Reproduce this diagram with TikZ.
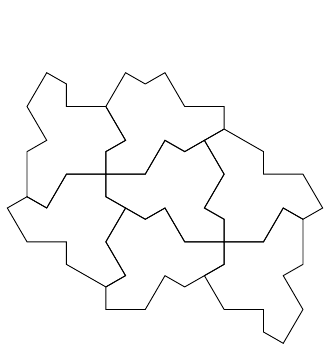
\documentclass[tikz,border=0pt]{standalone}
\begin{document}
\begin{tikzpicture}[x=1pt, y=-1pt, tile/.style={draw=black, line width=0.9pt}]
    \useasboundingbox (0,0) rectangle (323,347);
    \begin{scope}[shift={(7.3,72.7)}, x=19.71pt, y=-11.275pt]
        \draw[tile] (2,0) -- (3,1) -- (3,3) -- (5,3) -- (6,6) -- (5,7) -- (5,9) -- (3,9) -- (2,12) -- (1,11) -- (1,7) -- (2,6) -- (1,3) -- cycle;
        \draw[tile] (5,3) -- (6,0) -- (7,1) -- (8,0) -- (9,3) -- (11,3) -- (11,5) -- (9,7) -- (8,6) -- (7,9) -- (5,9) -- (5,7) -- (6,6) -- cycle;
        \draw[tile] (11,5) -- (13,7) -- (13,9) -- (15,9) -- (16,12) -- (15,13) -- (14,12) -- (13,15) -- (11,15) -- (11,13) -- (10,12) -- (11,9) -- (10,6) -- cycle;
        \draw[tile] (15,13) -- (15,17) -- (14,18) -- (15,21) -- (14,24) -- (13,23) -- (13,21) -- (11,21) -- (10,18) -- (11,17) -- (11,15) -- (13,15) -- (14,12) -- cycle;
        \draw[tile] (10,18) -- (9,19) -- (8,18) -- (7,21) -- (5,21) -- (5,19) -- (6,18) -- (5,15) -- (6,12) -- (7,13) -- (8,12) -- (9,15) -- (11,15) -- (11,17) -- cycle;
        \draw[tile] (0,12) -- (1,11) -- (2,12) -- (3,9) -- (5,9) -- (5,11) -- (6,12) -- (5,15) -- (6,18) -- (5,19) -- (3,17) -- (3,15) -- (1,15) -- cycle;
        \draw[tile] (7,9) -- (8,6) -- (9,7) -- (10,6) -- (11,9) -- (10,12) -- (11,13) -- (11,15) -- (9,15) -- (8,12) -- (7,13) -- (6,12) -- (5,11) -- (5,9) -- cycle;
    \end{scope}
\end{tikzpicture}
\end{document}
